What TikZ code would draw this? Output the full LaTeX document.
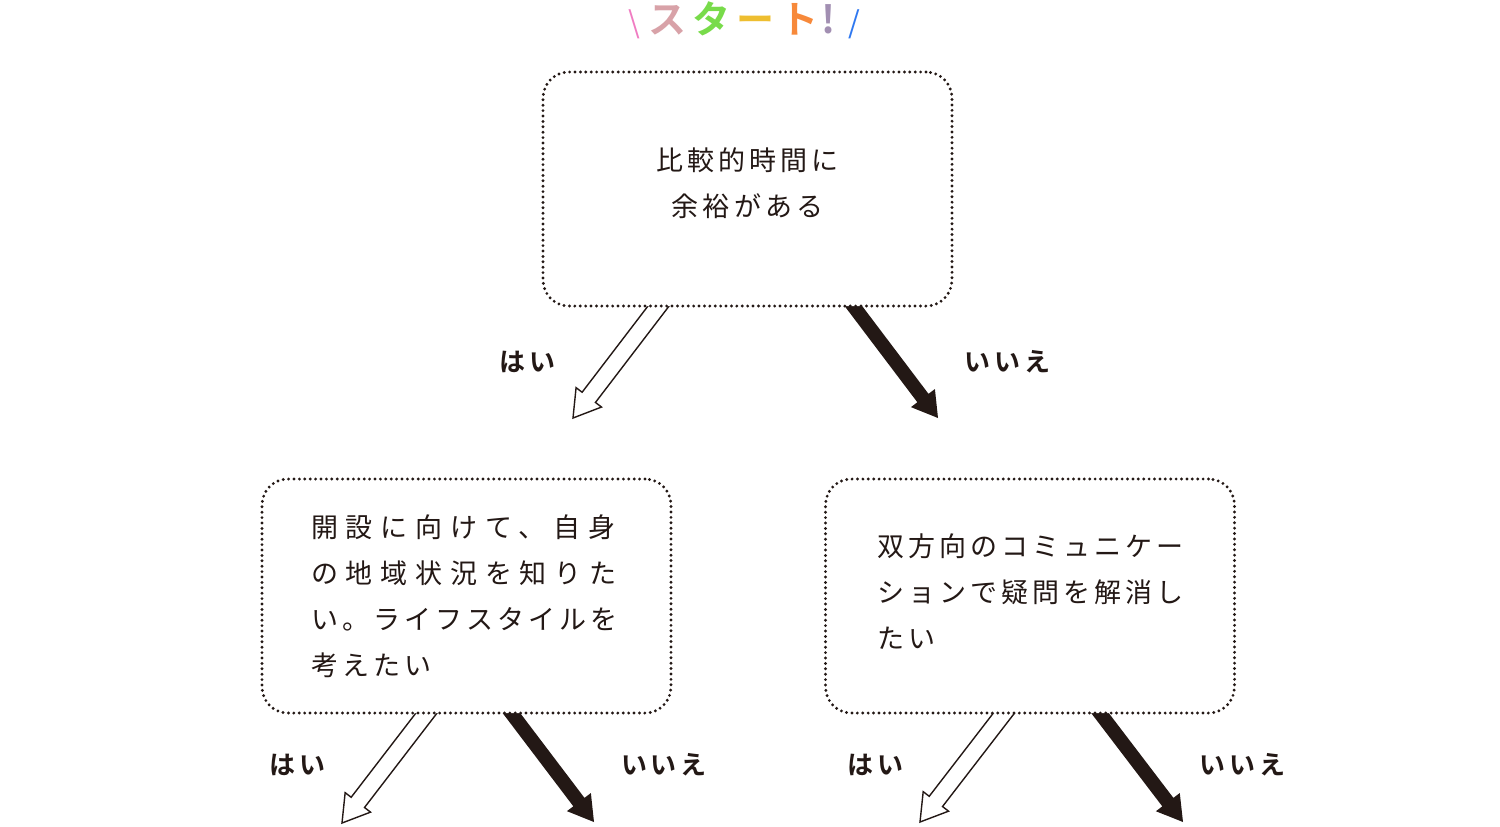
\documentclass[tikz,border=0pt]{standalone}
\usepackage{fontspec}
\newfontfamily\jp{Noto Sans CJK JP}
\newfontfamily\jpb{Noto Sans CJK JP Bold}
\usetikzlibrary{positioning, calc, backgrounds}
\definecolor{ink}{HTML}{231815}
\definecolor{cpink}{HTML}{F07CC2}
\definecolor{crose}{HTML}{D8A2A8}
\definecolor{cgreen}{HTML}{78DB4A}
\definecolor{cyellow}{HTML}{EEBE30}
\definecolor{corange}{HTML}{F7893A}
\definecolor{cgrey}{HTML}{A28FB2}
\definecolor{cblue}{HTML}{2F78F0}
% wider tracking for the justified lines
\newcommand\spread[1]{{\addfontfeatures{LetterSpace=29}#1}}
\newcommand\slashmark[2]{{\jp\fontsize{15pt}{15pt}\selectfont\textcolor{#1}{#2}}}

\tikzset{
  box/.style={draw=ink, line width=1.6pt, dash pattern=on 0pt off 2.7pt, line cap=round,
    rounded corners=13pt, fill=white, minimum width=204.5pt, minimum height=117pt,
    inner sep=0pt, text=ink},
  boxtext/.style={font=\jp\addfontfeatures{LetterSpace=15}\fontsize{13.5pt}{23pt}\selectfont},
  answer/.style={font=\jpb\addfontfeatures{LetterSpace=15}\fontsize{13pt}{13pt}\selectfont, text=ink},
  hollowarrow/.style={draw=ink, line width=0.7pt, fill=white, line join=miter, to path={
    ($(\tikztostart)!4.2pt!90:(\tikztotarget)$)
    -- ($(\tikztotarget)!13.66pt!-17.9:(\tikztostart)$)
    -- ($(\tikztotarget)!15.26pt!-31.6:(\tikztostart)$)
    -- (\tikztotarget)
    -- ($(\tikztotarget)!15.26pt!31.6:(\tikztostart)$)
    -- ($(\tikztotarget)!13.66pt!17.9:(\tikztostart)$)
    -- ($(\tikztostart)!4.2pt!-90:(\tikztotarget)$) -- cycle}},
  solidarrow/.style={fill=ink, draw=none, to path={
    ($(\tikztostart)!3.5pt!90:(\tikztotarget)$)
    -- ($(\tikztotarget)!12.98pt!-15.6:(\tikztostart)$)
    -- ($(\tikztotarget)!14.58pt!-31:(\tikztostart)$)
    -- (\tikztotarget)
    -- ($(\tikztotarget)!14.58pt!31:(\tikztostart)$)
    -- ($(\tikztotarget)!12.98pt!15.6:(\tikztostart)$)
    -- ($(\tikztostart)!3.5pt!-90:(\tikztotarget)$) -- cycle}}
}

\begin{document}
\begin{tikzpicture}[x=0.5pt, y=-0.5pt]
\useasboundingbox (0,0) rectangle (1500,826);
\node[font=\jpb\fontsize{19pt}{19pt}\selectfont] (start) at (744,20)
  {\slashmark{cpink}{\textbackslash}\hspace{4.5pt}\textcolor{crose}{ス}\hspace{3pt}\textcolor{cgreen}{タ}\hspace{3pt}\textcolor{cyellow}{ー}\hspace{3pt}\textcolor{corange}{ト}\hspace{1.5pt}\textcolor{cgrey}{!}\hspace{6pt}\slashmark{cblue}{/}};
\node[box, boxtext, align=center] (q1) at (747.5,189) {比較的時間に\\余裕がある\\[-16pt]};
\node[box, boxtext, align=left, text width=155.5pt] (q2) at (466.5,596)
  {\spread{開設に向けて、自身}\\\spread{の地域状況を知りた}\\い。ライフスタイルを\\考えたい};
\node[box, boxtext, align=left, text width=153pt] (q3) at (1030,596)
  {双方向のコミュニケー\\ションで疑問を解消し\\たい\\[-18pt]\mbox{}};
\coordinate (q1 yes) at (573,418);
\coordinate (q1 no) at (938,418);
\coordinate (q2 yes) at (342,823);
\coordinate (q2 no) at (594,822);
\coordinate (q3 yes) at (920,822);
\coordinate (q3 no) at (1183,822);
\begin{scope}[on background layer]
\draw[hollowarrow] ($(q1.south)+(-81,-12)$) to (q1 yes);
\draw[solidarrow] ($(q1.south)+(98,-12)$) to (q1 no);
\draw[hollowarrow] ($(q2.south)+(-32,-12)$) to (q2 yes);
\draw[solidarrow] ($(q2.south)+(37,-12)$) to (q2 no);
\draw[hollowarrow] ($(q3.south)+(-18,-12)$) to (q3 yes);
\draw[solidarrow] ($(q3.south)+(62,-12)$) to (q3 no);
\end{scope}
\node[answer] (q1 yes label) at (527.5,362) {はい};
\node[answer] (q1 no label) at (1007.5,362) {いいえ};
\node[answer] (q2 yes label) at (297.5,765) {はい};
\node[answer] (q2 no label) at (664,765) {いいえ};
\node[answer] (q3 yes label) at (875.5,765) {はい};
\node[answer] (q3 no label) at (1242.5,765) {いいえ};
\end{tikzpicture}
\end{document}
